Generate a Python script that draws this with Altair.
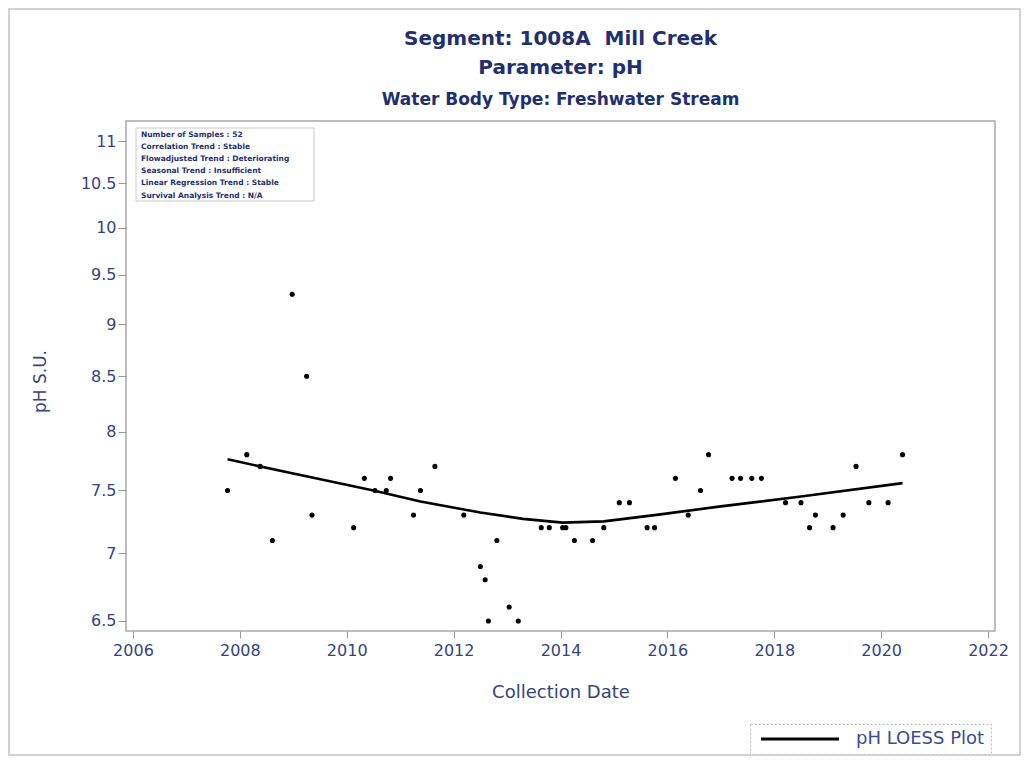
import altair as alt
import pandas as pd

# ---- data ----
dates = [2007.77, 2008.13, 2008.38, 2008.61, 2008.98, 2009.25, 2009.35, 2010.13, 2010.33, 2010.53,
         2010.74, 2010.82, 2011.25, 2011.38, 2011.65, 2012.19, 2012.50, 2012.59, 2012.65, 2012.81,
         2013.04, 2013.21, 2013.64, 2013.79, 2014.04, 2014.10, 2014.26, 2014.60, 2014.81, 2015.10,
         2015.29, 2015.62, 2015.76, 2016.15, 2016.39, 2016.62, 2016.77, 2017.21, 2017.37, 2017.58,
         2017.76, 2018.21, 2018.50, 2018.66, 2018.77, 2019.10, 2019.29, 2019.53, 2019.77, 2020.13,
         2020.40]
ph = [7.5, 7.8, 7.7, 7.1, 9.3, 8.5, 7.3, 7.2, 7.6, 7.5,
      7.5, 7.6, 7.3, 7.5, 7.7, 7.3, 6.9, 6.8, 6.5, 7.1,
      6.6, 6.5, 7.2, 7.2, 7.2, 7.2, 7.1, 7.1, 7.2, 7.4,
      7.4, 7.2, 7.2, 7.6, 7.3, 7.5, 7.8, 7.6, 7.6, 7.6,
      7.6, 7.4, 7.4, 7.2, 7.3, 7.2, 7.3, 7.7, 7.4, 7.4,
      7.8]

loess_dates = [2007.77, 2009.0, 2010.5, 2011.38, 2012.5, 2013.3, 2014.04, 2014.81, 2015.76, 2017.0, 2018.5, 2020.40]
loess_ph = [7.76, 7.64, 7.50, 7.41, 7.32, 7.27, 7.24, 7.25, 7.30, 7.37, 7.45, 7.56]

y_ticks = [6.5, 7, 7.5, 8, 8.5, 9, 9.5, 10, 10.5, 11]
x_ticks = [2006, 2008, 2010, 2012, 2014, 2016, 2018, 2020, 2022]

title_lines = ["Segment: 1008A\u00a0 Mill Creek", "Parameter: pH"]
subtitle = "Water Body Type: Freshwater Stream"
stats_lines = [
    "Number of Samples : 52",
    "Correlation Trend : Stable",
    "Flowadjusted Trend : Deteriorating",
    "Seasonal Trend : Insufficient",
    "Linear Regression Trend : Stable",
    "Survival Analysis Trend : N/A",
]
legend_label = "pH LOESS Plot"

NAVY = "#1f2f6f"
LABEL = "#34447e"
FONT = "DejaVu Sans"

pts = pd.DataFrame({"date": dates, "ph": ph})
lo = pd.DataFrame({"date": loess_dates, "ph": loess_ph, "series": legend_label})

xscale = alt.Scale(domain=[2005.87, 2022.13], nice=False, zero=False)
yscale = alt.Scale(type="log", domain=[6.429, 11.244], nice=False)

xaxis = alt.Axis(values=x_ticks, format="d", title="Collection Date", grid=False, domain=False,
                 tickColor="#999999", tickSize=7, labelFont=FONT, labelFontSize=16, labelColor=LABEL,
                 labelPadding=4, titleFont=FONT, titleFontSize=18, titleFontWeight="normal",
                 titleColor=LABEL, titleY=61, titleBaseline="middle", labelFlush=False)
yaxis = alt.Axis(values=y_ticks, format="~g", title="pH S.U.", grid=False, domain=False,
                 tickColor="#999999", tickSize=8, labelFont=FONT, labelFontSize=16, labelColor=LABEL,
                 labelPadding=2, titleFont=FONT, titleFontSize=17, titleFontWeight="normal",
                 titleColor=LABEL, titleX=-86, titleY=260, titleAngle=270, titleAlign="center",
                 titleBaseline="middle", labelFlush=False)

X = alt.X("date:Q", scale=xscale, axis=xaxis)
Y = alt.Y("ph:Q", scale=yscale, axis=yaxis)

points = alt.Chart(pts).mark_circle(size=26, color="black", opacity=1).encode(x=X, y=Y)

line = alt.Chart(lo).mark_line(strokeWidth=2.6).encode(
    x=X, y=Y,
    color=alt.Color("series:N",
                    scale=alt.Scale(domain=[legend_label], range=["black"]),
                    legend=alt.Legend(title=None, orient="none", legendX=624, legendY=603,
                                      symbolType="M-1,0H18.5", symbolSize=64, symbolStrokeWidth=3,
                                      labelFont=FONT, labelFontSize=18, labelColor="#3a4b94",
                                      padding=6, strokeColor="#bbbbbb",
                                      fillColor="white", labelOffset=82)),
)

outer = alt.Chart(alt.Data(values=[{}])).mark_rect(fill=None, stroke="#d2d2d2", strokeWidth=2).encode(
    x=alt.value(-117), x2=alt.value(894), y=alt.value(-112), y2=alt.value(634))

box = alt.Chart(alt.Data(values=[{}])).mark_rect(fill="white", stroke="#c8c8c8", strokeWidth=1).encode(
    x=alt.value(10), x2=alt.value(188), y=alt.value(7), y2=alt.value(80))

stats = alt.Chart(alt.Data(values=[{}])).mark_text(
    text=stats_lines, align="left", baseline="top", font=FONT, fontWeight="bold",
    fontSize=7.5, lineHeight=12.1, color=NAVY).encode(x=alt.value(15), y=alt.value(10))

chart = alt.layer(outer, box, stats, line, points).properties(
    width=869, height=510,
    autosize=alt.AutoSizeParams(type="none"),
    padding={"left": 118, "top": 113, "right": 26, "bottom": 126},
    background="white",
    title=alt.TitleParams(text=title_lines, subtitle=subtitle, anchor="middle", font=FONT,
                          fontSize=20, fontWeight="bold", color=NAVY, lineHeight=29,
                          subtitleFont=FONT, subtitleFontSize=17, subtitleFontWeight="bold",
                          subtitleColor=NAVY, subtitlePadding=14, offset=13, dy=113),
).configure_view(stroke="#a8a8a8", strokeWidth=1.5).configure_legend(strokeDash=[2, 2])

chart.save("out.html", embed_options={"renderer": "svg", "actions": False})
